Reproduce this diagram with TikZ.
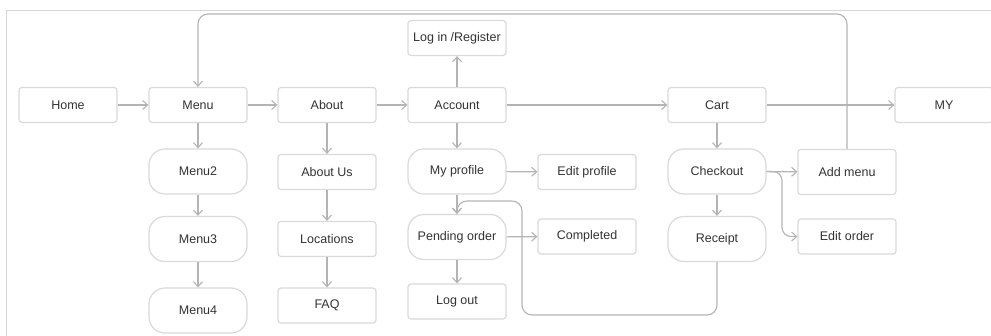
\documentclass[tikz,border=0pt]{standalone}
\usepackage{fontspec}
\setmainfont{Liberation Sans}
\usetikzlibrary{arrows.meta}
\definecolor{boxline}{HTML}{DADADA}
\definecolor{arrowline}{HTML}{B4B4B4}
\definecolor{labeltext}{HTML}{333333}
\definecolor{framegray}{HTML}{D6D6D6}
\tikzset{
  pagebox/.style={draw=boxline, line width=1.2pt, rounded corners=3pt,
    minimum width=98pt, minimum height=35pt, inner sep=0pt,
    text=labeltext, font=\fontsize{12.5}{14}\selectfont},
  pillbox/.style={pagebox, rounded corners=16pt, minimum height=45pt},
  tallbox/.style={pagebox, minimum height=45pt},
  flow/.style={draw=arrowline, line width=1.1pt,
    -{Straight Barb[length=5pt,width=9pt,line width=1.1pt]}},
  loopline/.style={flow, rounded corners=10pt}
}
\begin{document}
\begin{tikzpicture}[x=1pt,y=-1pt]
  \clip (0,0) rectangle (991,336);
  \fill[white] (0,0) rectangle (991,336);
  % outer frame
  \draw[framegray, line width=1.4pt] (6.5,10.5) rectangle (1010,360);

  % top row
  \node[pagebox] (home)    at (68,105)  {Home};
  \node[pagebox] (menu)    at (198,105) {Menu};
  \node[pagebox] (about)   at (327,105) {About};
  \node[pagebox] (account) at (457,105) {Account};
  \node[pagebox] (login)   at (457,38)  {Log in /Register};
  \node[pagebox] (cart)    at (717,105) {Cart};
  \node[pagebox] (my)      at (944,105) {MY};

  % second row
  \node[pillbox] (menu2)     at (198,171.5) {Menu2};
  \node[pagebox] (aboutus)   at (327,172)   {About Us};
  \node[pillbox] (profile)   at (457,171.5) {My profile};
  \node[pagebox] (editprof)  at (587,172)   {Edit profile};
  \node[pillbox] (checkout)  at (717,171.5) {Checkout};
  \node[tallbox] (addmenu)   at (847,172)   {Add menu};

  % third row
  \node[pillbox] (menu3)     at (198,239)   {Menu3};
  \node[pagebox] (locations) at (327,239)   {Locations};
  \node[pillbox] (pending)   at (457,237)   {Pending order};
  \node[pagebox] (completed) at (587,236.5) {Completed};
  \node[pillbox] (receipt)   at (717,239)   {Receipt};
  \node[pagebox] (editorder) at (847,236.5) {Edit order};

  % fourth row
  \node[pillbox] (menu4)  at (198,310.5) {Menu4};
  \node[pagebox] (faq)    at (327,305.5) {FAQ};
  \node[pagebox] (logout) at (457,301.5) {Log out};

  % main navigation
  \draw[flow] (home) -- (menu);
  \draw[flow] (menu) -- (about);
  \draw[flow] (about) -- (account);
  \draw[flow] (account) -- (cart);
  \draw[flow] (cart) -- (my);
  \draw[flow] (account) -- (login);

  % columns
  \draw[flow] (menu) -- (menu2);
  \draw[flow] (menu2) -- (menu3);
  \draw[flow] (menu3) -- (menu4);
  \draw[flow] (about) -- (aboutus);
  \draw[flow] (aboutus) -- (locations);
  \draw[flow] (locations) -- (faq);
  \draw[flow] (account) -- (profile);
  \draw[flow] (profile) -- (pending);
  \draw[flow] (pending) -- (logout);
  \draw[flow] (profile) -- (editprof);
  \draw[flow] (pending) -- (completed);
  \draw[flow] (cart) -- (checkout);
  \draw[flow] (checkout) -- (receipt);
  \draw[flow] (checkout) -- (addmenu);

  % branch from checkout to edit order
  \coordinate (branch) at (782,200);
  \draw[flow, rounded corners=9pt] (checkout.east) -| (branch) |- (editorder.west);

  % return from add menu to menu
  \coordinate (topline) at (0,14);
  \draw[loopline] (addmenu.north) |- (menu.north |- topline) -- (menu.north);

  % return from receipt to pending order
  \coordinate (lowrun) at (522,315);
  \coordinate (highrun) at (522,201);
  \draw[loopline] (receipt.south) |- (lowrun) -- (highrun) -| (pending.north);
\end{tikzpicture}
\end{document}
